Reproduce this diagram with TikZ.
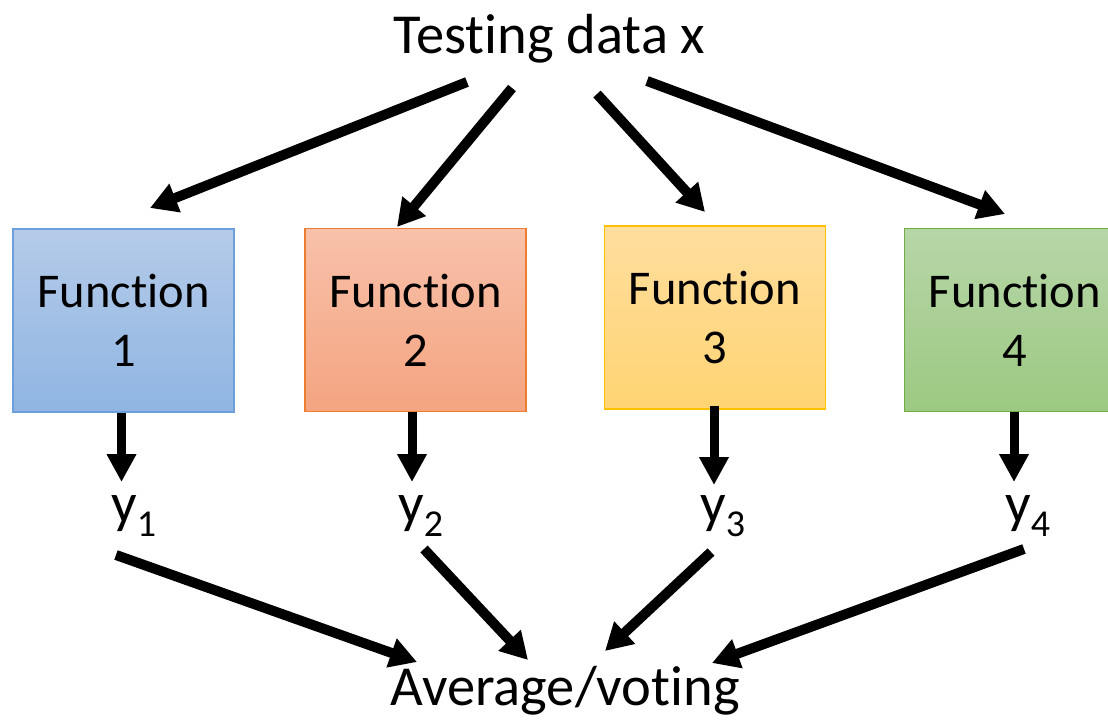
\documentclass[tikz,border=0pt]{standalone}
\usepackage{fontspec}
\setmainfont{Carlito}[Ligatures=CommonOff]
\usetikzlibrary{arrows.meta}

\definecolor{blueTop}{RGB}{181,203,233}
\definecolor{blueBot}{RGB}{143,181,226}
\definecolor{blueLine}{RGB}{108,160,220}
\definecolor{orangeTop}{RGB}{248,193,170}
\definecolor{orangeBot}{RGB}{244,164,128}
\definecolor{orangeLine}{RGB}{237,125,49}
\definecolor{yellowTop}{RGB}{255,222,158}
\definecolor{yellowBot}{RGB}{255,212,115}
\definecolor{yellowLine}{RGB}{255,192,0}
\definecolor{greenTop}{RGB}{183,214,168}
\definecolor{greenBot}{RGB}{156,201,130}
\definecolor{greenLine}{RGB}{112,173,71}

\newcommand\yout[1]{y\raisebox{-14pt}{\fontsize{38}{38}\selectfont #1}}

\tikzset{
  funcbox/.style={rectangle, minimum width=221pt, minimum height=183pt,
    line width=1.2pt, align=center, inner sep=0pt,
    font=\fontsize{48.5}{59}\selectfont},
  bigtext/.style={inner sep=0pt, font=\fontsize{56.5}{60}\selectfont},
  fat/.style={line width=10pt, -{Triangle[length=27pt,width=29pt]}},
  drop/.style={line width=9pt, -{Triangle[length=28pt,width=28pt]}},
}

\begin{document}
\begin{tikzpicture}[x=1pt,y=-1pt]
\clip (0,0) rectangle (1108,720);
\fill[white] (0,0) rectangle (1108,720);

% input and combiner
\node[bigtext, anchor=base] (src) at (549.5,53) {Testing data x};
\node[bigtext, anchor=base] (avg) at (565,705) {Average/voting};

% the four functions
\node[funcbox, top color=blueTop, bottom color=blueBot, draw=blueLine]
  (f1) at (123.5,320.5) {Function\\1};
\node[funcbox, top color=orangeTop, bottom color=orangeBot, draw=orangeLine]
  (f2) at (415.5,320) {Function\\2};
\node[funcbox, top color=yellowTop, bottom color=yellowBot, draw=yellowLine]
  (f3) at (715,317.5) {Function\\3};
\node[funcbox, top color=greenTop, bottom color=greenBot, draw=greenLine]
  (f4) at (1015,320) {Function\\4};

% outputs
\node[bigtext, anchor=base west] (y1) at (111,522) {\yout{1}};
\node[bigtext, anchor=base west] (y2) at (398,522) {\yout{2}};
\node[bigtext, anchor=base west] (y3) at (700,522) {\yout{3}};
\node[bigtext, anchor=base west] (y4) at (1005,522) {\yout{4}};

% arrow ends
\coordinate (s1) at (467,82);
\coordinate (s2) at (512,88);
\coordinate (s3) at (597,94);
\coordinate (s4) at (647,81);
\coordinate (t1) at (150,208);
\coordinate (t2) at (397,227);
\coordinate (t3) at (705,212);
\coordinate (t4) at (1005,214);

\coordinate (d1) at (121.5,482);
\coordinate (d2) at (412,482);
\coordinate (d3) at (714,485);
\coordinate (d4) at (1014,482);

\coordinate (u1) at (116,555);
\coordinate (u2) at (424,549);
\coordinate (u3) at (711,552);
\coordinate (u4) at (1024,549);
\coordinate (v1) at (417,662);
\coordinate (v2) at (528,660);
\coordinate (v3) at (605,651);
\coordinate (v4) at (712,663);

% fan out from the input
\draw[fat] (s1) -- (t1);
\draw[fat] (s2) -- (t2);
\draw[fat] (s3) -- (t3);
\draw[fat] (s4) -- (t4);

% each function gives its output
\draw[drop] (d1 |- f1.south) -- (d1);
\draw[drop] (d2 |- f2.south) -- (d2);
\draw[drop] ([yshift=4pt]d3 |- f3.south) -- (d3);
\draw[drop] (d4 |- f4.south) -- (d4);

% outputs merged
\draw[fat] (u1) -- (v1);
\draw[fat] (u2) -- (v2);
\draw[fat] (u3) -- (v3);
\draw[fat] (u4) -- (v4);
\end{tikzpicture}
\end{document}
